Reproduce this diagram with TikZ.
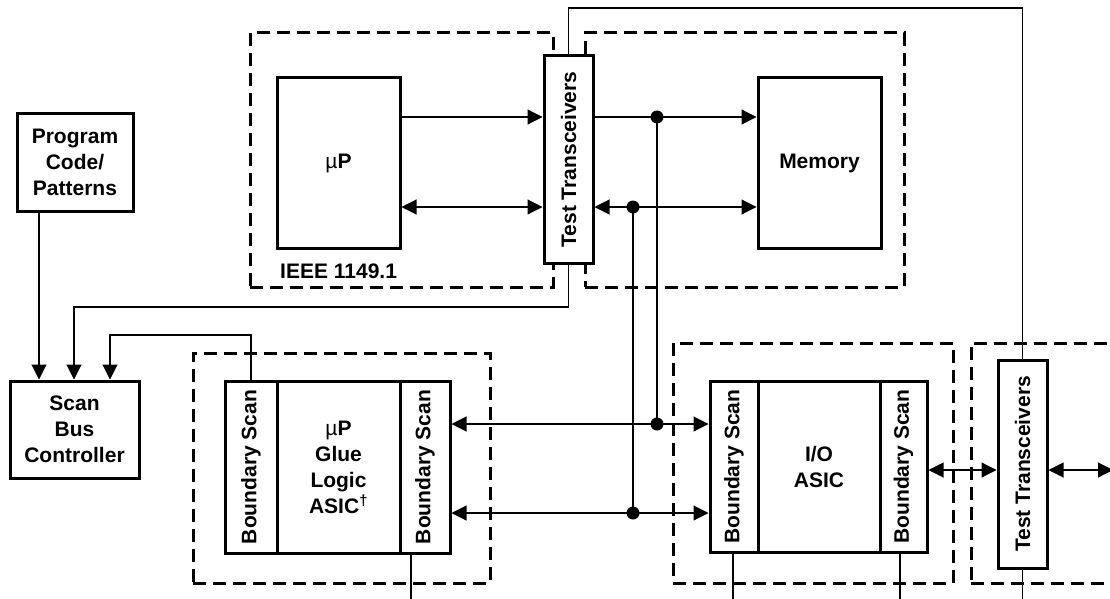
\documentclass[tikz,border=0pt]{standalone}
\usepackage{fontspec}
\setmainfont{Liberation Sans}
\usetikzlibrary{arrows.meta}
\newcommand\lblfont{\fontsize{21}{26}\selectfont\bfseries}
\newcommand\mufont{{\fontseries{m}\selectfont µ}}
\begin{document}
\begin{tikzpicture}[x=1pt,y=-1pt,
  box/.style={draw,line width=3pt,fill=white,inner sep=0pt,align=center,font=\lblfont},
  dbox/.style={draw,line width=3pt,dash pattern=on 13pt off 7pt,inner sep=0pt},
  wire/.style={line width=1.1pt},
  arr/.style={wire,-{Triangle[length=15pt,width=15pt]}},
  darr/.style={wire,{Triangle[length=15pt,width=15pt]}-{Triangle[length=15pt,width=15pt]}},
  dot/.style={circle,fill,inner sep=0pt,minimum size=13pt}]
\useasboundingbox (0,0) rectangle (1110,599);
% dashed enclosures
\node[dbox,minimum width=303pt,minimum height=254pt] (d1) at (401.5,160) {};
\node[dbox,minimum width=319pt,minimum height=254pt] (d2) at (744.5,160) {};
\node[dbox,minimum width=297pt,minimum height=230pt] (d3) at (341.5,468) {};
\node[dbox,minimum width=280pt,minimum height=240pt] (d4) at (813,463) {};
\node[dbox,minimum width=148pt,minimum height=240pt] (d5) at (1045,463) {};
% blocks
\node[box,minimum width=116pt,minimum height=97pt] (prog) at (75,162.5) {Program\\Code/\\Patterns};
\node[box,minimum width=129pt,minimum height=97pt] (sbc) at (74.5,429.5) {Scan\\Bus\\Controller};
\node[box,minimum width=123pt,minimum height=170pt] (up) at (338.5,163) {\mufont P};
\node[box,minimum width=123pt,minimum height=170pt] (mem) at (819.5,163) {Memory};
\node[box,minimum width=49pt,minimum height=207pt] (tt1) at (568.5,159.5) {\rotatebox{90}{Test Transceivers}};
\node[anchor=base west,font=\lblfont,inner sep=0pt] (ieee) at (280,278) {IEEE 1149.1};
\node[box,minimum width=52pt,minimum height=172pt] (glueL) at (251,467) {\rotatebox{90}{Boundary Scan}};
\node[box,minimum width=123pt,minimum height=172pt] (glueC) at (338.5,467) {\mufont P\\Glue\\Logic\\ASIC\textsuperscript{†}};
\node[box,minimum width=50pt,minimum height=172pt] (glueR) at (425,467) {\rotatebox{90}{Boundary Scan}};
\node[box,minimum width=48pt,minimum height=171pt] (ioL) at (734,466.5) {\rotatebox{90}{Boundary Scan}};
\node[box,minimum width=122pt,minimum height=171pt] (ioC) at (819,466.5) {I/O\\ASIC};
\node[box,minimum width=47pt,minimum height=171pt] (ioR) at (903.5,466.5) {\rotatebox{90}{Boundary Scan}};
\node[box,minimum width=49pt,minimum height=208pt] (tt2) at (1022.5,464) {\rotatebox{90}{Test Transceivers}};
% helper coordinates
\coordinate (r1) at (0,117);
\coordinate (r2) at (0,207);
\coordinate (r3) at (0,424);
\coordinate (r4) at (0,513);
\coordinate (r5) at (0,470);
\coordinate (c1) at (39,0);
\coordinate (c2) at (74,307);
\coordinate (c3) at (110,335);
\coordinate (ctop) at (0,8);
\coordinate (rEnd) at (1113,470);
\coordinate (b1) at (411,601);
\coordinate (b2) at (733,601);
\coordinate (b3) at (900,601);
\coordinate (b4) at (1022.5,601);
% data paths
\draw[arr] (up.east|-r1) -- (tt1.west|-r1);
\draw[darr] (up.east|-r2) -- (tt1.west|-r2);
\draw[arr] (tt1.east|-r1) -- (mem.west|-r1);
\draw[darr] (tt1.east|-r2) -- (mem.west|-r2);
\node[dot] (j1) at (657,117) {};
\node[dot] (j2) at (633,207) {};
\node[dot] (j3) at (657,424) {};
\node[dot] (j4) at (633,513) {};
\draw[wire] (j1.center) -- (j3.center);
\draw[wire] (j2.center) -- (j4.center);
\draw[darr] (glueR.east|-r3) -- (ioL.west|-r3);
\draw[darr] (glueR.east|-r4) -- (ioL.west|-r4);
\draw[darr] (ioR.east|-r5) -- (tt2.west|-r5);
\draw[darr] (tt2.east|-r5) -- (rEnd);
% scan paths
\draw[arr] (prog.south-|c1) -- (sbc.north-|c1);
\draw[arr] (tt1.south) -- (tt1.south|-c2) -- (c2) -- (sbc.north-|c2);
\draw[arr] (glueL.north) -- (glueL.north|-c3) -- (c3) -- (sbc.north-|c3);
\draw[wire] (tt1.north) -- (tt1.north|-ctop) -- (tt2.north|-ctop) -- (tt2.north);
\draw[wire] (glueR.south-|b1) -- (b1);
\draw[wire] (ioL.south-|b2) -- (b2);
\draw[wire] (ioR.south-|b3) -- (b3);
\draw[wire] (tt2.south) -- (b4);
\end{tikzpicture}
\end{document}
